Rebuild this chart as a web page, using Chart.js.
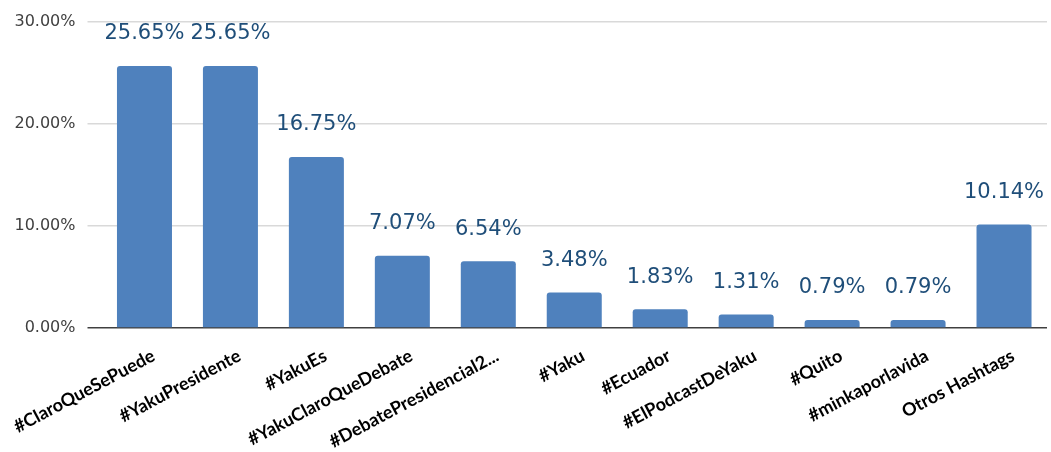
<!DOCTYPE html>
<html>
<head>
<meta charset="utf-8">
<script src="https://cdn.jsdelivr.net/npm/chart.js@4/dist/chart.umd.min.js"></script>
<style>
  html, body { margin: 0; padding: 0; background: #ffffff; }
  #wrap { width: 1051px; height: 452px; position: relative; }
</style>
</head>
<body>
<div id="wrap"><canvas id="c"></canvas></div>
<script>
// Hashtag share data
const categories = [
  "#ClaroQueSePuede", "#YakuPresidente", "#YakuEs", "#YakuClaroQueDebate",
  "#DebatePresidencial2...", "#Yaku", "#Ecuador", "#ElPodcastDeYaku",
  "#Quito", "#minkaporlavida", "Otros Hashtags"
];
const shares = [25.65, 25.65, 16.75, 7.07, 6.54, 3.48, 1.83, 1.31, 0.79, 0.79, 10.14];
const yTicks = [0, 10, 20, 30];

// Writes each bar's percentage above it
const valueLabels = {
  id: 'valueLabels',
  afterDatasetsDraw(chart) {
    const ctx = chart.ctx;
    const meta = chart.getDatasetMeta(0);
    ctx.save();
    ctx.font = '21px "DejaVu Sans"';
    ctx.fillStyle = '#1F4E79';
    ctx.textAlign = 'center';
    ctx.textBaseline = 'middle';
    meta.data.forEach((bar, i) => {
      ctx.fillText(shares[i].toFixed(2) + '%', bar.x, bar.y - 32);
    });
    ctx.restore();
  }
};

new Chart(document.getElementById('c'), {
  type: 'bar',
  data: {
    labels: categories,
    datasets: [{
      data: shares,
      backgroundColor: '#4F81BD',
      borderWidth: 0,
      borderRadius: { topLeft: 3, topRight: 3, bottomLeft: 0, bottomRight: 0 },
      borderSkipped: 'bottom',
      barPercentage: 0.64,
      categoryPercentage: 1.0
    }]
  },
  options: {
    responsive: true,
    maintainAspectRatio: false,
    animation: false,
    layout: { padding: { top: 21, right: 4, left: 0, bottom: 0 } },
    plugins: { legend: { display: false }, tooltip: { enabled: false } },
    scales: {
      x: {
        grid: { display: false },
        border: { display: false },
        ticks: {
          color: '#000000',
          font: { family: 'Lato', weight: 'bold', size: 18 },
          maxRotation: 28,
          minRotation: 28,
          autoSkip: false,
          padding: 9,
          labelOffset: 9
        },
        afterFit(scale) {
          scale.height = 124;
          scale.paddingLeft = 0;
          scale.paddingRight = 0;
        }
      },
      y: {
        min: 0,
        max: 30,
        afterBuildTicks(scale) { scale.ticks = yTicks.map(v => ({ value: v })); },
        grid: {
          color: ctx => ctx.tick && ctx.tick.value === 0 ? '#404040' : '#D9D9D9',
          lineWidth: 1.5,
          tickLength: 14,
          drawTicks: true
        },
        border: { display: false },
        ticks: {
          color: '#404040',
          font: { family: 'DejaVu Sans', size: 16 },
          padding: 12,
          callback: v => v.toFixed(2) + '%'
        },
        afterFit(scale) { scale.width = 101.5; }
      }
    }
  },
  plugins: [valueLabels]
});
</script>
</body>
</html>
